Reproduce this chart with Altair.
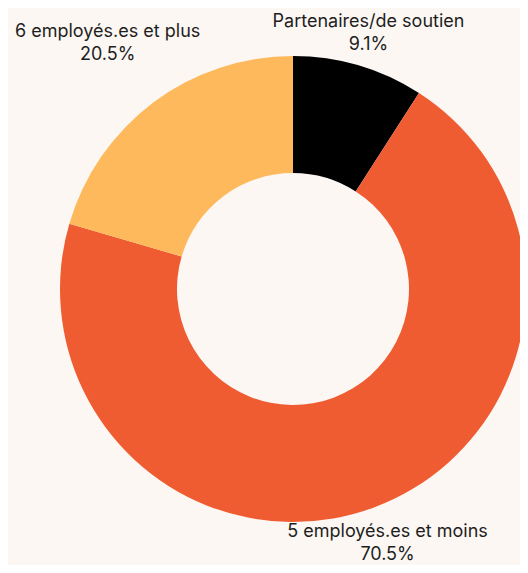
import math
import altair as alt
import pandas as pd

categories = ["Partenaires/de soutien", "5 employés.es et moins", "6 employés.es et plus"]
values = [9.1, 70.5, 20.5]
colors = ["#000000", "#F05C31", "#FDB95B"]

df = pd.DataFrame({"categorie": categories, "valeur": values})
total = float(sum(values))

BG = "#FCF7F3"
CX, CY = 285, 281
theta_scale = alt.Scale(domain=[0, total], range=[0, 2 * math.pi])

arcs = alt.Chart(df).transform_window(
    idx="row_number()"
).mark_arc(innerRadius=116, outerRadius=233, stroke=None).encode(
    theta=alt.Theta("valeur:Q", stack=True, scale=theta_scale),
    order=alt.Order("idx:Q"),
    color=alt.Color("categorie:N", scale=alt.Scale(domain=categories, range=colors), legend=None),
    x=alt.value(CX),
    y=alt.value(CY),
)

labels = alt.Chart(df).transform_window(
    idx="row_number()"
).transform_window(
    cum="sum(valeur)", sort=[alt.SortField("idx")], frame=[None, 0]
).transform_calculate(
    mid="datum.cum - datum.valeur / 2",
    etiquette="datum.categorie + '\\n' + format(datum.valeur, '.1f') + '%'",
    rlab="datum.categorie == '6 employés.es et plus' ? 309 : (datum.categorie == '5 employés.es et moins' ? 270 : 268)",
).mark_text(
    font="Inter", fontSize=18, color="#1E1E1E", align="center", baseline="middle",
    lineBreak="\n", lineHeight=23, dy=-10,
).encode(
    theta=alt.Theta("mid:Q", stack=None, scale=theta_scale),
    text="etiquette:N",
    radius=alt.Radius("rlab:Q", scale=None),
    x=alt.value(CX),
    y=alt.value(CY),
)

chart = alt.layer(arcs, labels).resolve_scale(theta="independent").properties(
    width=512, height=557, background=BG, padding=0,
    autosize=alt.AutoSizeParams(type="none"),
).configure_view(stroke=None)

chart.save("out.html", embed_options={"renderer": "svg", "actions": False})
